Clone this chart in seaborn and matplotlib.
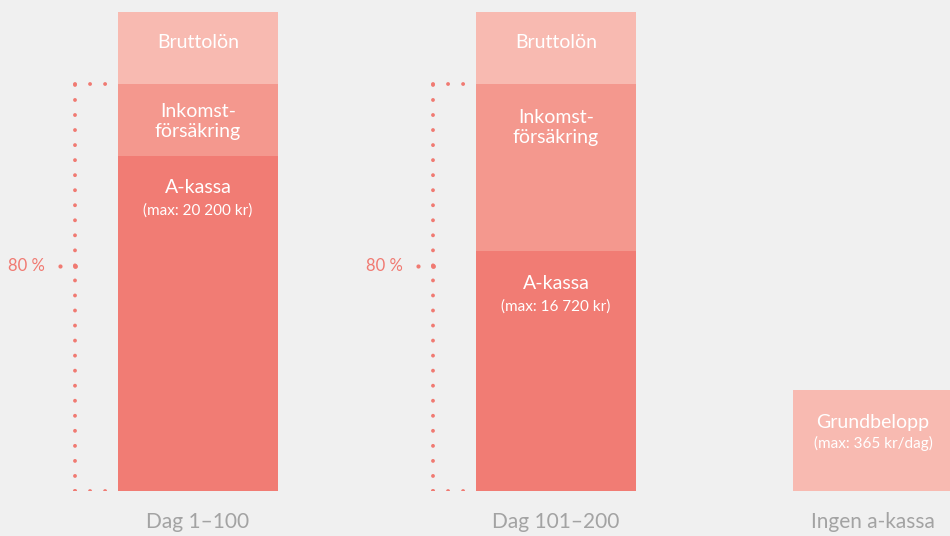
import numpy as np
import pandas as pd
import matplotlib
matplotlib.use("Agg")
import matplotlib.pyplot as plt
import seaborn as sns

# ---------------- data ----------------
categories = ["Dag 1–100", "Dag 101–200", "Ingen a-kassa"]
bruttolon_top = [100, 100, 0]      # top of Bruttolön segment (% of salary)
inkomst_top = [85, 85, 0]          # top of Inkomstförsäkring segment
akassa_top = [70, 50, 0]           # top of A-kassa segment
grund_top = [0, 0, 21]             # Grundbelopp
akassa_max = ["(max: 20 200 kr)", "(max: 16 720 kr)", ""]
grund_max = "(max: 365 kr/dag)"
bracket_label = "80 %"
bracket_label_level = 47

# ---------------- layout / style ----------------
W, H, DPI = 950, 536, 100
bar_centers = [198, 556, 873]      # horizontal layout in pixels
bar_width_px = 160
base_px = 491                      # baseline pixel from top
px_per_unit = 4.79

BG = "#f0f0f0"
C_BRUTTO = "#f8bab1"
C_INKOMST = "#f4988e"
C_AKASSA = "#f17c74"
C_DOT = "#f07a72"
C_TICK = "#a3a3a3"

sns.set_theme(style="white")
plt.rcParams["font.family"] = ["Lato", "DejaVu Sans"]

fig = plt.figure(figsize=(W / DPI, H / DPI), dpi=DPI, facecolor=BG)
ax = fig.add_axes([0, (H - base_px) / H, 1, base_px / H])
ax.set_facecolor(BG)

df = pd.DataFrame({
    "pos": bar_centers,
    "cat": categories,
    "brutto": bruttolon_top,
    "inkomst": inkomst_top,
    "akassa": akassa_top,
    "grund": grund_top,
})

min_gap = np.min(np.diff(sorted(bar_centers)))
wrel = bar_width_px / min_gap
for col, color in [("brutto", C_BRUTTO), ("inkomst", C_INKOMST),
                   ("akassa", C_AKASSA), ("grund", C_BRUTTO)]:
    sns.barplot(data=df, x="pos", y=col, native_scale=True, width=wrel,
                color=color, saturation=1, errorbar=None, linewidth=0, ax=ax)

ax.set_xlim(0, W)
ax.set_ylim(0, base_px / px_per_unit)
for s in ax.spines.values():
    s.set_visible(False)
ax.set_xlabel("")
ax.set_ylabel("")
ax.set_yticks([])
ax.set_xticks(bar_centers)
ax.set_xticklabels(categories, fontsize=15, color=C_TICK)
ax.tick_params(axis="x", length=0, pad=15)

px2pt = 72 / DPI

def label(x, ytop, text, off_px, size, va="center"):
    ax.annotate(text, xy=(x, ytop), xytext=(0, -off_px * px2pt),
                textcoords="offset points", ha="center", va=va,
                color="white", fontsize=size, linespacing=1.2)

for i, x in enumerate(bar_centers):
    if bruttolon_top[i] > 0:
        label(x, bruttolon_top[i], "Bruttolön", 31, 14)
        off = 27 if i == 0 else 33
        label(x, inkomst_top[i], "Inkomst-\nförsäkring", off + 11, 14)
        label(x, akassa_top[i], "A-kassa", 32, 14)
        label(x, akassa_top[i], akassa_max[i], 55, 11)
    if grund_top[i] > 0:
        label(x, grund_top[i], "Grundbelopp", 32, 14)
        label(x, grund_top[i], grund_max, 53, 11)

# dotted brackets
lw = 2.8
gap_pt = 15 * px2pt / lw
for i, x in enumerate(bar_centers):
    if inkomst_top[i] <= 0:
        continue
    xv = x - 123
    xe = x - 92
    dot = dict(color=C_DOT, lw=lw, ls=(0, (0.01, gap_pt)),
               dash_capstyle="round", solid_capstyle="round")
    ax.plot([xv, xv], [0, inkomst_top[i]], **dot)
    ax.plot([xv, xe], [inkomst_top[i], inkomst_top[i]], **dot)
    ax.plot([xv, xe], [0, 0], **dot)
    ax.plot([x - 138], [bracket_label_level], "o", ms=3, color=C_DOT,
            mew=0)
    ax.plot([xv], [bracket_label_level], "o", ms=3.5, color=C_DOT, mew=0)
    ax.text(x - 153, bracket_label_level, bracket_label, ha="right",
            va="center", color=C_DOT, fontsize=12)

fig.savefig("out.png", dpi=DPI, facecolor=BG)
